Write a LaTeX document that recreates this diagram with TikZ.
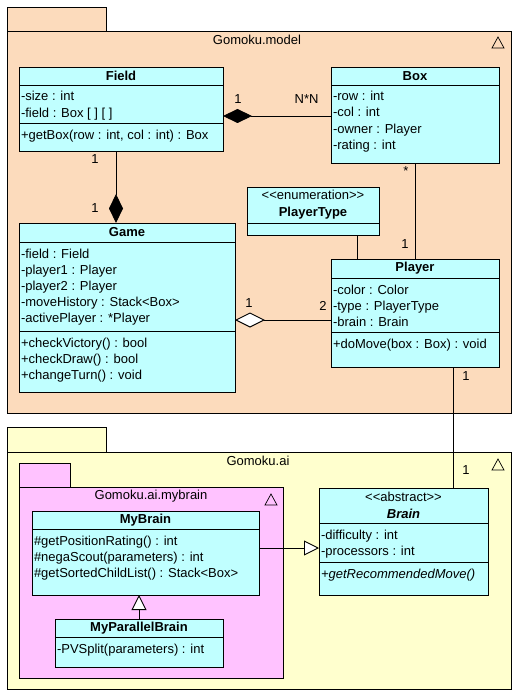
\documentclass[tikz,border=0pt]{standalone}
\usepackage{fontspec}
\setmainfont{Liberation Sans}
\usetikzlibrary{positioning, arrows.meta}

\definecolor{modelfill}{RGB}{252,219,188}
\definecolor{aifill}{RGB}{255,255,206}
\definecolor{mybrainfill}{RGB}{255,194,255}
\definecolor{classfill}{RGB}{192,255,255}

\newcommand{\umlrows}[3]{\parbox[c][#2pt][t]{#1pt}{\raggedright\leftskip=2pt\baselineskip=16pt\rule{0pt}{16pt}#3}}

\begin{document}
\begin{tikzpicture}[x=1pt, y=-1pt, line width=0.9pt,
	font=\fontsize{13}{16}\selectfont,
	part/.style={draw, fill=classfill, anchor=north west, inner sep=0pt, outer sep=0pt},
	head/.style={part, align=center, font=\fontsize{13}{17}\selectfont\bfseries},
	mult/.style={inner sep=1pt},
	compos/.style={{Diamond[length=29pt,width=14pt]}-},
	aggr/.style={{Diamond[length=30pt,width=15pt,fill=white]}-},
	inherit/.style={-{Triangle[length=15pt,width=15pt,fill=white]}}]
	\useasboundingbox (0,0) rectangle (517,698);

	% packages
	\draw [fill=modelfill] (7,7) rectangle (106,31);
	\draw [fill=modelfill] (7,31) rectangle (511,413);
	\node (model) at (257,40) {Gomoku.model};
	\draw [fill=aifill] (7,427) rectangle (106,452);
	\draw [fill=aifill] (7,452) rectangle (511,689);
	\node (ai) at (258,461) {Gomoku.ai};
	\draw [fill=mybrainfill] (19,463) rectangle (70,487);
	\draw [fill=mybrainfill] (19,487) rectangle (283,678);
	\node (mybrainpkg) at (151,496) {Gomoku.ai.mybrain};
	\foreach \p in {(498,43),(498,465),(271,500)}
		\draw [line width=0.7pt] \p ++(-6,5) -- ++(12,0) -- ++(-6,-11) -- cycle;

	% classes
	\node [head, minimum width=204, minimum height=18] (field) at (19,67) {Field};
	\node [part] (field-a) at (field.south west) {\umlrows{204}{38}{-size : int\\-field : Box [ ] [ ]}};
	\node [part] (field-m) at (field-a.south west) {\umlrows{204}{28}{+getBox(row : int, col : int) : Box}};

	\node [head, minimum width=168, minimum height=18] (box) at (331,67) {Box};
	\node [part] (box-a) at (box.south west) {\umlrows{168}{78}{-row : int\\-col : int\\-owner : Player\\-rating : int}};

	\node [head, minimum width=132, minimum height=36] (ptype) at (247,187) {{\normalfont <\kern0pt<enumeration>\kern0pt>}\\PlayerType};
	\node [part, minimum width=132, minimum height=12] (ptype-a) at (ptype.south west) {};

	\node [head, minimum width=216, minimum height=19] (game) at (19,223) {Game};
	\node [part] (game-a) at (game.south west) {\umlrows{216}{89}{-field : Field\\-player1 : Player\\-player2 : Player\\-moveHistory : Stack<Box>\\-activePlayer : *Player}};
	\node [part] (game-m) at (game-a.south west) {\umlrows{216}{61}{+checkVictory() : bool\\+checkDraw() : bool\\+changeTurn() : void}};

	\node [head, minimum width=168, minimum height=19] (player) at (331,259) {Player};
	\node [part] (player-a) at (player.south west) {\umlrows{168}{54}{-color : Color\\-type : PlayerType\\-brain : Brain}};
	\node [part] (player-m) at (player-a.south west) {\umlrows{168}{35}{+doMove(box : Box) : void}};

	\node [head, minimum width=227, minimum height=18] (mybrain) at (32,511) {MyBrain};
	\node [part] (mybrain-m) at (mybrain.south west) {\umlrows{227}{66}{\#getPositionRating() : int\\\#negaScout(parameters) : int\\\#getSortedChildList() : Stack<Box>}};

	\node [head, minimum width=168, minimum height=18] (mypb) at (55,619) {MyParallelBrain};
	\node [part] (mypb-m) at (mypb.south west) {\umlrows{168}{30}{-PVSplit(parameters) : int}};

	\node [head, minimum width=169, minimum height=35] (brain) at (319,488) {{\normalfont <\kern0pt<abstract>\kern0pt>}\\\textit{Brain}};
	\node [part] (brain-a) at (brain.south west) {\umlrows{169}{39}{-difficulty : int\\-processors : int}};
	\node [part] (brain-m) at (brain-a.south west) {\umlrows{169}{33}{\textit{+getRecommendedMove()}}};

	% relations
	\draw [compos] ([yshift=-31pt]field-a.north east) -- ([yshift=-31pt]field-a.north east -| box-a.west)
		node [mult, pos=0, above right=11pt and 10pt] (m-fb1) {1}
		node [mult, pos=1, above left=11pt and 11pt] (m-fb2) {N*N};
	\draw [compos] ([xshift=-5pt]field-m.south |- game.north) -- ([xshift=-5pt]field-m.south)
		node [mult, pos=1, below left=2pt and 16pt] (m-fg1) {1}
		node [mult, pos=0, above left=9pt and 16pt] (m-fg2) {1};
	\draw (box-a.south) -- (player.north)
		node [mult, pos=0, below left=2pt and 5pt] (m-bp1) {*}
		node [mult, pos=1, above left=9pt and 5pt] (m-bp2) {1};
	\draw ([xshift=44pt]ptype-a.south) -- ([xshift=44pt]ptype-a.south |- player.north);
	\draw [aggr] ([yshift=-78pt]game-a.north east) -- ([yshift=-78pt]game-a.north east -| player-a.west)
		node [mult, pos=0, above right=11pt and 9pt] (m-gp1) {1}
		node [mult, pos=1, above left=8pt and 3pt] (m-gp2) {2};
	\draw ([xshift=38pt]player-m.south) -- ([xshift=38pt]player-m.south |- brain.north)
		node [mult, pos=0, below right=3pt and 8pt] (m-pb1) {1}
		node [mult, pos=1, above right=12pt and 8pt] (m-pb2) {1};
	\draw [inherit] (mypb.north) -- (mypb.north |- mybrain-m.south);
	\draw [inherit] ([yshift=-19pt]mybrain-m.north east) -- ([yshift=-19pt]mybrain-m.north east -| brain-a.west);
\end{tikzpicture}
\end{document}
